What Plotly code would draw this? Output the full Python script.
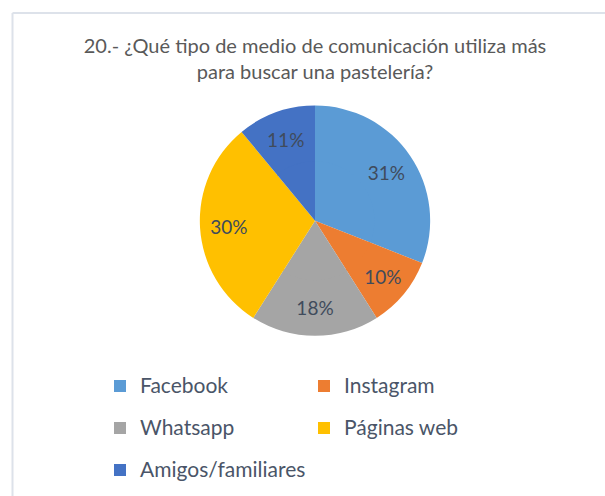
import plotly.graph_objects as go

categories = ["Facebook", "Instagram", "Whatsapp", "Páginas web", "Amigos/familiares"]
values = [31, 10, 18, 30, 11]
colors = ["#5B9BD5", "#ED7D31", "#A5A5A5", "#FFC000", "#4472C4"]
title_text = "20.- ¿Qué tipo de medio de comunicación utiliza más<br>para buscar una pastelería?"

W, H = 605, 496
CX, CY, R = 315, 228, 119
HOLE = 0.5
legend_labels = [f'<span style="font-size:21px;baseline-shift:5px">{c}</span>' for c in categories]

common = dict(
    labels=legend_labels,
    values=values,
    sort=False,
    direction="clockwise",
    rotation=0,
    marker=dict(colors=colors, line=dict(width=0)),
)

# outer ring carries the percentage labels (placed in the ring, like Excel)
ring = go.Pie(
    **common,
    hole=HOLE,
    textinfo="percent",
    textposition="inside",
    insidetextorientation="horizontal",
    insidetextfont=dict(family="Lato", size=19, color="#404b5c"),
    domain=dict(x=[(CX - R) / W, (CX + R) / W], y=[(H - CY - R) / H, (H - CY + R) / H]),
)
# inner disc fills the hole so the chart reads as a full pie
r_in = R * HOLE + 2
inner = go.Pie(
    **common,
    textinfo="none",
    showlegend=False,
    hoverinfo="skip",
    domain=dict(x=[(CX - r_in) / W, (CX + r_in) / W], y=[(H - CY - r_in) / H, (H - CY + r_in) / H]),
)

fig = go.Figure([ring, inner])

fig.update_layout(
    width=W, height=H,
    margin=dict(l=0, r=0, t=0, b=0),
    paper_bgcolor="white",
    plot_bgcolor="white",
    title=dict(text=title_text, x=CX / W, xanchor="center", y=1 - 53 / H, yanchor="top",
               font=dict(family="Lato", size=20, color="#595959")),
    showlegend=True,
    legend=dict(orientation="h", x=100 / W, xanchor="left", y=1 - 372 / H, yanchor="top",
                entrywidth=159, entrywidthmode="pixels",
                font=dict(family="Lato", size=30, color="#4a5568"),
                bgcolor="rgba(0,0,0,0)"),
    shapes=[
        dict(type="line", xref="paper", yref="paper", x0=12.5 / W, x1=12.5 / W, y0=-0.05, y1=1 - 13.5 / H,
             line=dict(color="#dde2ea", width=2)),
        dict(type="line", xref="paper", yref="paper", x0=12.5 / W, x1=1.05, y0=1 - 13.5 / H, y1=1 - 13.5 / H,
             line=dict(color="#dde2ea", width=2)),
    ],
)

fig.write_html("out.html", config={"displayModeBar": False},
               post_script="document.body.style.margin='0';")
